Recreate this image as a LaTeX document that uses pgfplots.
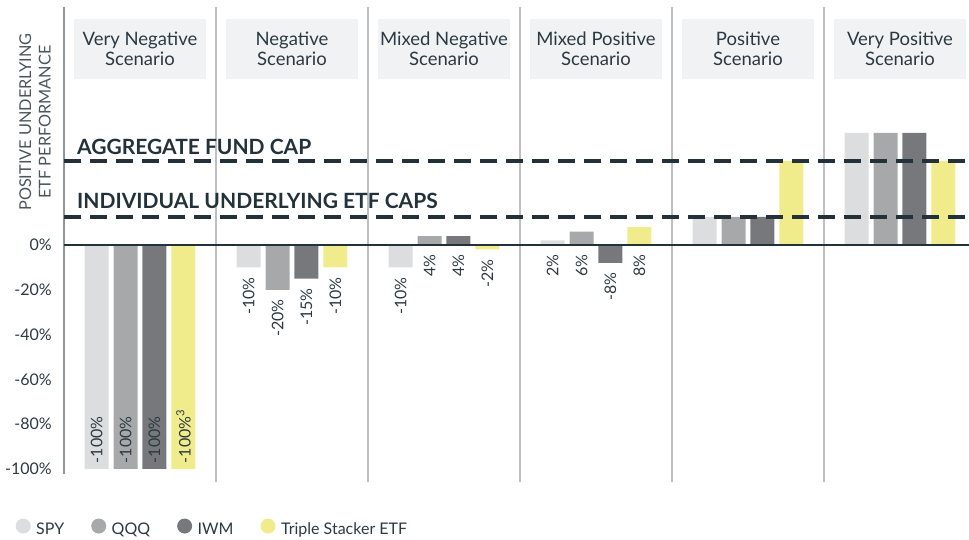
\documentclass[border=0pt]{standalone}
\usepackage{fontspec}
\setmainfont{Lato}
\usepackage{pgfplots}
\pgfplotsset{compat=1.18}
\definecolor{spyc}{HTML}{DCDDDF}
\definecolor{qqqc}{HTML}{A7A8AA}
\definecolor{iwmc}{HTML}{77787B}
\definecolor{tsc}{HTML}{F0EC8C}
\definecolor{txt}{HTML}{2B3A42}
\definecolor{dashc}{HTML}{22313A}
\definecolor{sepc}{HTML}{BCC0C3}
\definecolor{axc}{HTML}{8F969B}
\definecolor{hdr}{HTML}{F1F2F4}
\definecolor{ylabc}{HTML}{4A565C}
\tikzset{hdrbox/.style={fill=hdr, minimum width=132pt, minimum height=60pt, align=center, inner sep=0pt,
    font=\fontsize{18.5}{20}\selectfont, text=txt}}
\begin{document}
\begin{tikzpicture}
\begin{axis}[
  name=ax,
  scale only axis, width=905pt, height=475.4pt,
  xmin=-0.5, xmax=5.454, ymin=-106, ymax=106.25,
  axis line style={draw=none},
  xtick=\empty,
  ytick={-100,-80,-60,-40,-20,0},
  yticklabels={-100\%,-80\%,-60\%,-40\%,-20\%,0\%},
  major tick length=0pt,
  /pgf/number format/assume math mode=true,
  yticklabel style={font=\fontsize{16}{18}\selectfont, text=txt, anchor=east, inner sep=0pt, xshift=-12pt},
  clip=false,
  legend style={at={(axis description cs:0,0)}, anchor=west, xshift=-48.5pt, yshift=-46pt,
    draw=none, fill=none, inner sep=0pt, legend columns=4,
    font=\fontsize{16}{18}\selectfont, text=txt,
    /tikz/every odd column/.append style={column sep=3.5pt},
    /tikz/every even column/.append style={column sep=25pt}},
  legend cell align=left,
]
\addplot[ybar, bar width=0.158, bar shift=-0.286, fill=spyc, draw=none,
  legend image code/.code={\fill[spyc] (7.5pt,0.35em) circle (7.5pt);}]
  coordinates {(0,-100) (1,-10) (2,-10) (3,2) (4,12.5) (5,50)};
\addlegendentry{SPY}
\addplot[ybar, bar width=0.158, bar shift=-0.095, fill=qqqc, draw=none,
  legend image code/.code={\fill[qqqc] (7.5pt,0.35em) circle (7.5pt);}]
  coordinates {(0,-100) (1,-20) (2,4) (3,6) (4,12.5) (5,50)};
\addlegendentry{QQQ}
\addplot[ybar, bar width=0.158, bar shift=0.095, fill=iwmc, draw=none,
  legend image code/.code={\fill[iwmc] (7.5pt,0.35em) circle (7.5pt);}]
  coordinates {(0,-100) (1,-15) (2,4) (3,-8) (4,12.5) (5,50)};
\addlegendentry{IWM}
\addplot[ybar, bar width=0.158, bar shift=0.286, fill=tsc, draw=none,
  legend image code/.code={\fill[tsc] (7.5pt,0.35em) circle (7.5pt);}]
  coordinates {(0,-100) (1,-10) (2,-2) (3,8) (4,37.5) (5,37.5)};
\addlegendentry{Triple Stacker ETF}

% value labels below bars
\addplot[only marks, mark=none, forget plot, nodes near coords, point meta=explicit symbolic,
  nodes near coords style={rotate=90, anchor=east, inner sep=0pt, font=\fontsize{16}{18}\selectfont, text=txt}]
  table[x=x, y=y, meta=lbl] {
x y lbl
0.714 -14.3 -10\%
0.905 -24.3 -20\%
1.095 -19.3 -15\%
1.286 -14.3 -10\%
1.714 -14.3 -10\%
1.905 -4.3 4\%
2.095 -4.3 4\%
2.286 -6.3 -2\%
2.714 -4.3 2\%
2.905 -4.3 6\%
3.095 -12.3 -8\%
3.286 -4.3 8\%
};
% value labels inside bars
\addplot[only marks, mark=none, forget plot, nodes near coords, point meta=explicit symbolic,
  nodes near coords style={rotate=90, anchor=west, inner sep=0pt, font=\fontsize{16}{18}\selectfont, text=txt}]
  table[x=x, y=y, meta=lbl] {
x y lbl
-0.286 -97.5 -100\%
-0.095 -97.5 -100\%
0.095 -97.5 -100\%
0.286 -97.5 -100\%\textsuperscript{3}
};

% separators and axis lines
\draw[axc, line width=2pt] (axis cs:-0.5,106.25) -- (axis cs:-0.5,-102.2);
\draw[sepc, line width=1.3pt] (axis cs:0.5,106.25) -- (axis cs:0.5,-106);
\draw[sepc, line width=1.3pt] (axis cs:1.5,106.25) -- (axis cs:1.5,-106);
\draw[sepc, line width=1.3pt] (axis cs:2.5,106.25) -- (axis cs:2.5,-106);
\draw[sepc, line width=1.3pt] (axis cs:3.5,106.25) -- (axis cs:3.5,-106);
\draw[sepc, line width=1.3pt] (axis cs:4.5,106.25) -- (axis cs:4.5,-106);
\draw[dashc, line width=2.4pt] (axis cs:-0.5,0) -- (axis cs:5.454,0);
\draw[dashc, line width=4pt, dash pattern=on 17pt off 9pt] (axis cs:-0.5,37.5) -- (axis cs:5.454,37.5);
\draw[dashc, line width=4pt, dash pattern=on 17pt off 9pt] (axis cs:-0.5,12.5) -- (axis cs:5.454,12.5);
\node[anchor=base west, inner sep=0pt, font=\bfseries\fontsize{21}{24}\selectfont, text=dashc] at (axis cs:-0.4145,40.6) {AGGREGATE FUND CAP};
\node[anchor=base west, inner sep=0pt, font=\bfseries\fontsize{21}{24}\selectfont, text=dashc] at (axis cs:-0.4145,16.1) {INDIVIDUAL UNDERLYING ETF CAPS};

% headers
\node[hdrbox] at (axis cs:0,87.5) {Very Negative\\Scenario};
\node[hdrbox] at (axis cs:1,87.5) {Negative\\Scenario};
\node[hdrbox] at (axis cs:2,87.5) {Mixed Negative\\Scenario};
\node[hdrbox] at (axis cs:3,87.5) {Mixed Positive\\Scenario};
\node[hdrbox] at (axis cs:4,87.5) {Positive\\Scenario};
\node[hdrbox] at (axis cs:5,87.5) {Very Positive\\Scenario};
% y label
\node[rotate=90, align=center, inner sep=0pt, font=\fontsize{16.3}{19.5}\selectfont, text=ylabc] at (axis cs:-0.691,54.9) {POSITIVE UNDERLYING\\ETF PERFORMANCE};
\end{axis}
\pgfresetboundingbox
\useasboundingbox ([shift={(-64pt,-57.6pt)}]ax.south west) rectangle ([shift={(905pt,482.4pt)}]ax.south west);
\end{tikzpicture}
\end{document}
